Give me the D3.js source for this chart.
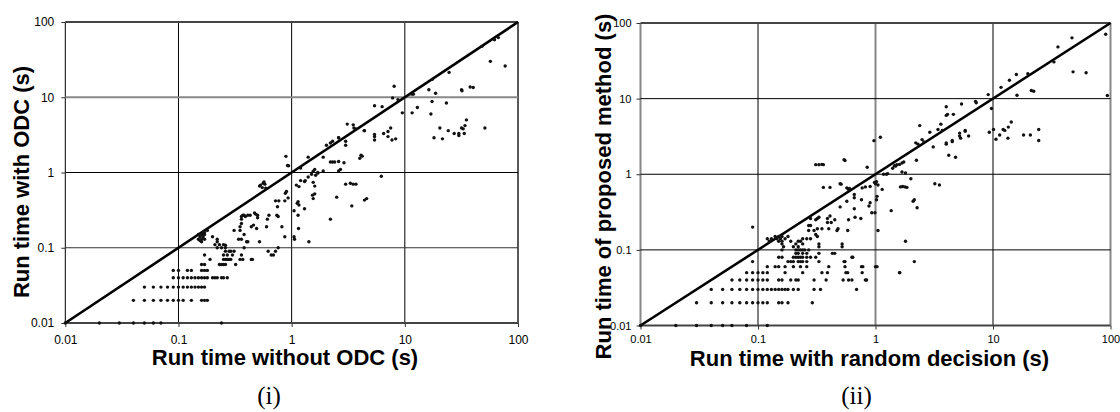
<!DOCTYPE html>
<html>
<head>
<meta charset="utf-8">
<script src="https://cdn.jsdelivr.net/npm/d3@7"></script>
<style>
  body { margin: 0; background: #fff; }
  svg { display: block; }
  .tick text { font-family: "Liberation Sans", Arial, sans-serif; fill: #000; }
  .title { font-family: "Liberation Sans", Arial, sans-serif; font-weight: bold; font-size: 22px; }
  .caption { font-family: "Liberation Serif", "DejaVu Serif", serif; font-size: 25px; }
</style>
</head>
<body>
<div id="chart"></div>
<script>
// Shared log axis ticks
const tickValues = [0.01, 0.1, 1, 10, 100];
const tickLabels = ['0.01', '0.1', '1', '10', '100'];

// (i) run time with ODC vs without ODC: timings rounded to 0.01 s form rows
const odcRows = [
  [0.01, [0.01, 0.02, 0.03, 0.04, 0.05, 0.06, 0.07, 0.24]],
  [0.02, [0.04, 0.05, 0.06, 0.07, 0.08, 0.09, 0.1, 0.11, 0.13, 0.16, 0.17, 0.18]],
  [0.03, [0.05, 0.06, 0.07, 0.08, 0.09, 0.1, 0.11, 0.12, 0.13, 0.14, 0.15, 0.16, 0.17]],
  [0.04, [0.09, 0.1, 0.11, 0.12, 0.13, 0.14, 0.15, 0.16, 0.17, 0.18, 0.2, 0.21, 0.22, 0.24, 0.25, 0.27]],
  [0.05, [0.09, 0.1, 0.12, 0.13, 0.16, 0.17, 0.18]],
  [0.06, [0.16, 0.17, 0.23, 0.24, 0.25, 0.26, 0.32]],
  [0.07, [0.19, 0.25, 0.26, 0.27, 0.28, 0.29, 0.35, 0.37, 0.44, 0.45]],
  [0.08, [0.17, 0.25, 0.27, 0.3, 0.36, 0.66, 0.69]],
  [0.09, [0.26, 0.28, 0.29, 0.31, 0.62, 0.72]]
];
const odcPoints = [
  [0.15, 0.15], [0.155, 0.14], [0.16, 0.15], [0.16, 0.13], [0.165, 0.14], [0.17, 0.13],
  [0.15, 0.13], [0.16, 0.12], [0.17, 0.15], [0.155, 0.125], [0.165, 0.16], [0.18, 0.17],
  [0.17, 0.16], [0.2, 0.14], [0.22, 0.13], [0.22, 0.12], [0.23, 0.11], [0.21, 0.11],
  [0.24, 0.1], [0.25, 0.11], [0.22, 0.1], [0.26, 0.1], [0.26, 0.108], [0.31, 0.17],
  [0.36, 0.26], [0.36, 0.24], [0.36, 0.21], [0.38, 0.27], [0.37, 0.27], [0.36, 0.13],
  [0.35, 0.19], [0.35, 0.17], [0.34, 0.13], [0.38, 0.15], [0.4, 0.12], [0.38, 0.1],
  [0.41, 0.12], [0.39, 0.26], [0.41, 0.27], [0.43, 0.27], [0.47, 0.29], [0.5, 0.27],
  [0.44, 0.19], [0.46, 0.2], [0.49, 0.18], [0.48, 0.28], [0.5, 0.25], [0.52, 0.12],
  [0.6, 0.19], [0.63, 0.27], [0.61, 0.24], [0.52, 0.66], [0.55, 0.63], [0.56, 0.72],
  [0.57, 0.75], [0.58, 0.7], [0.59, 0.62], [0.53, 0.68], [0.72, 0.42], [0.77, 0.42],
  [0.75, 0.35], [0.74, 0.27], [0.76, 0.26], [0.82, 0.19], [0.87, 0.14], [0.76, 0.1],
  [0.87, 0.42], [0.88, 0.53], [0.9, 0.56], [0.93, 0.46], [0.89, 1.64], [0.92, 1.24],
  [0.94, 1.23], [1.4, 1.6], [1.9, 1.6], [1.6, 1.1], [1.9, 1.05], [1.5, 0.95],
  [1.7, 0.98], [1.3, 0.76], [1.32, 0.78], [1.2, 0.78], [1.16, 0.65], [1.1, 0.68],
  [1.4, 0.87], [1.55, 0.74], [1.6, 0.66], [1.53, 0.5], [1.6, 0.52], [1.55, 0.45],
  [1.14, 0.41], [1.12, 0.39], [1.16, 0.37], [1.3, 0.33], [1.14, 0.27], [1.05, 0.31],
  [1.15, 0.18], [1.05, 0.14], [1.06, 0.13], [1.42, 0.12], [1.2, 1.15], [1.55, 1.04],
  [1.63, 0.92], [1.7, 1.0], [2.03, 2.3], [2.2, 2.47], [2.3, 2.6], [2.6, 2.9],
  [2.2, 1.38], [2.3, 1.38], [2.4, 1.38], [2.6, 1.4], [2.9, 1.35], [2.7, 1.1],
  [2.6, 1.05], [3.0, 2.6], [3.0, 2.3], [2.6, 2.9], [3.1, 4.4], [3.5, 4.3],
  [3.55, 3.9], [4.37, 3.6], [4.1, 1.7], [4.2, 1.65], [4.0, 1.55], [3.0, 0.7],
  [3.3, 0.72], [3.5, 0.7], [3.7, 0.7], [3.4, 0.36], [2.5, 0.47], [2.2, 0.24],
  [4.4, 0.43], [4.6, 0.45], [6.2, 0.89], [5.4, 7.7], [5.4, 3.2], [5.4, 3.0],
  [5.4, 2.7], [6.5, 3.3], [7.1, 3.0], [7.1, 3.5], [7.5, 3.9], [7.7, 2.7],
  [8.3, 2.8], [8.05, 14], [7.8, 9.8], [8.7, 9.3], [9.5, 6.2], [11.6, 6.2],
  [12.9, 7.3], [11.5, 11], [11.9, 11], [16.3, 12.6], [18.7, 11.3], [17.4, 8.8],
  [17, 6], [23.3, 8.4], [24.6, 21.4], [17.5, 17.3], [20.4, 3.9], [18.1, 2.9],
  [21.5, 2.8], [24.2, 3.6], [27.3, 3.3], [30, 3.1], [30, 3.3], [31.7, 3.9],
  [32.8, 3.8], [34, 4.2], [35, 5], [33.5, 3.3], [31.7, 12.6], [32, 12.2],
  [37.8, 13.7], [40.2, 13.5], [51, 3.9], [48, 47.5], [57, 30], [77, 26],
  [67, 62], [62, 58], [6.3, 7.5], [4.4, 3.6], [3.7, 3.8]
];

// (ii) run time of proposed method vs random decision
const randRows = [
  [0.01, [0.01, 0.02, 0.03, 0.04, 0.05, 0.06, 0.08, 0.12]],
  [0.02, [0.03, 0.04, 0.05, 0.06, 0.07, 0.08, 0.09, 0.1, 0.11, 0.12, 0.15, 0.16, 0.18, 0.29]],
  [0.03, [0.04, 0.05, 0.06, 0.07, 0.08, 0.09, 0.1, 0.11, 0.12, 0.13, 0.14, 0.15, 0.16, 0.17, 0.18, 0.2, 0.22, 0.3, 0.34]],
  [0.04, [0.06, 0.07, 0.08, 0.09, 0.1, 0.11, 0.12, 0.15, 0.16, 0.19, 0.21, 0.22, 0.3, 0.38, 0.53, 0.59, 0.84]],
  [0.05, [0.08, 0.09, 0.1, 0.11, 0.12, 0.17, 0.24, 0.35, 0.39, 0.58, 0.77, 1.61]],
  [0.06, [0.12, 0.14, 0.15, 0.17, 0.2, 0.23, 0.26, 0.4, 0.55, 0.78, 1.03]],
  [0.07, [0.09, 0.18, 0.19, 0.2, 0.22, 0.23, 0.24, 0.26, 0.33, 0.55, 2.14]],
  [0.08, [0.15, 0.16, 0.2, 0.21, 0.22, 0.23, 0.24, 0.26, 0.28, 0.31, 0.64]],
  [0.09, [0.21, 0.22, 0.24, 0.26, 0.33, 0.45]],
  [0.1, [0.21, 0.22, 0.23, 0.24, 0.25, 0.27]]
];
const randPoints = [
  [0.09, 0.2], [0.12, 0.14], [0.125, 0.13], [0.13, 0.14], [0.14, 0.15], [0.145, 0.14],
  [0.15, 0.15], [0.155, 0.14], [0.16, 0.15], [0.15, 0.13], [0.16, 0.13], [0.16, 0.12],
  [0.165, 0.11], [0.16, 0.1], [0.17, 0.14], [0.18, 0.15], [0.19, 0.13], [0.2, 0.11],
  [0.21, 0.12], [0.22, 0.11], [0.23, 0.13], [0.24, 0.12], [0.24, 0.14], [0.26, 0.14],
  [0.28, 0.14], [0.22, 0.13], [0.32, 0.15], [0.33, 0.12], [0.33, 0.11], [0.3, 0.18],
  [0.31, 0.16], [0.27, 0.21], [0.27, 0.18], [0.28, 0.26], [0.31, 0.25], [0.32, 0.26],
  [0.33, 0.27], [0.28, 0.21], [0.32, 0.19], [0.35, 0.19], [0.4, 0.19], [0.48, 0.19],
  [0.42, 0.23], [0.39, 0.26], [0.41, 0.28], [0.45, 0.25], [0.39, 0.23], [0.52, 0.12],
  [0.58, 0.18], [0.59, 0.25], [0.67, 0.27], [0.75, 0.26], [0.66, 0.35], [0.66, 0.54],
  [0.66, 0.49], [0.59, 0.63], [0.57, 0.66], [0.6, 0.65], [0.5, 0.75], [0.51, 0.74],
  [0.36, 0.67], [0.41, 0.67], [0.31, 1.34], [0.33, 1.34], [0.35, 1.35], [0.36, 1.34],
  [0.54, 1.56], [0.55, 1.52], [0.85, 1.24], [0.97, 2.78], [1.1, 3.08], [0.77, 0.66],
  [0.82, 0.68], [0.9, 0.69], [0.9, 0.42], [0.88, 0.38], [0.98, 0.78], [1.0, 0.75],
  [1.02, 0.8], [1.05, 0.72], [1.03, 0.51], [1.02, 0.46], [0.93, 0.31], [0.99, 0.31],
  [1.14, 0.63], [1.17, 1.0], [1.24, 1.0], [1.27, 1.02], [1.48, 1.28], [1.52, 1.34],
  [1.68, 1.41], [1.74, 1.45], [1.68, 1.07], [1.8, 1.04], [2.0, 0.87], [1.63, 0.68],
  [1.7, 0.69], [1.78, 0.68], [1.85, 0.67], [2.09, 0.44], [2.14, 0.46], [2.26, 0.36],
  [1.36, 0.33], [1.05, 0.18], [1.8, 0.13], [1.0, 0.06], [1.6, 0.05], [0.56, 0.05],
  [0.63, 0.04], [0.69, 0.03], [0.76, 0.06], [0.82, 0.04], [0.43, 0.09], [0.52, 0.11],
  [0.54, 0.07], [0.63, 0.08], [0.47, 0.18], [0.5, 0.37], [0.57, 0.44], [0.76, 0.46],
  [2.23, 1.53], [2.38, 4.4], [2.58, 2.68], [2.49, 2.87], [2.2, 2.6], [2.3, 2.5],
  [47, 63.6], [35.7, 48.3], [33, 30.6], [48, 22.6], [62, 22], [91, 71], [94, 11],
  [19.8, 21.3], [15.8, 20.8], [13.8, 17.5], [11.7, 14.1], [16, 11.1], [21.2, 12.8],
  [22.2, 12.5], [9.1, 11.3], [9.7, 7.4], [7.1, 9.2], [7.2, 8.8], [5.4, 8.5],
  [4.0, 7.8], [4.0, 6.0], [4.1, 6.2], [4.6, 6.2], [3.6, 4.6], [3.4, 3.9],
  [3.7, 3.8], [2.9, 3.6], [3.1, 2.3], [4.0, 2.6], [4.0, 2.5], [4.5, 2.7],
  [4.5, 2.8], [5.2, 3.5], [5.2, 3.2], [5.3, 3.0], [5.8, 3.8], [5.8, 3.7],
  [6.2, 3.2], [4.2, 1.78], [4.8, 1.68], [3.2, 0.75], [3.5, 0.72], [9.3, 3.6],
  [10.1, 3.9], [10.6, 2.9], [11.4, 3.3], [12.2, 3.9], [12.6, 3.8], [13.5, 4.2],
  [13.4, 3.0], [14.3, 4.9], [18.2, 3.3], [20.8, 3.3], [24.5, 3.9], [24.5, 2.8],
  [1.6, 1.35], [1.45, 1.3], [1.4, 1.2]
];

// Expand rounded-time rows into [x, y] pairs
function rowsToPoints(rows) {
  return rows.flatMap(([y, xs]) => xs.map(x => [x, y]));
}

/**
 * Draw one log-log scatter panel with a y = x reference line
 * @param {object} svg - d3 selection to draw into
 * @param {object} cfg - panel layout and data
 */
function scatterPanel(svg, cfg) {
  const x = d3.scaleLog().domain([0.01, 100]).range(cfg.xRange);
  const y = d3.scaleLog().domain([0.01, 100]).range(cfg.yRange);
  const g = svg.append('g');

  // grid, drawn line by line since the source shades some of them
  g.append('g').selectAll('line')
      .data(tickValues)
    .enter().append('line')
      .attr('x1', d => x(d)).attr('x2', d => x(d))
      .attr('y1', cfg.yRange[0]).attr('y2', cfg.yRange[1])
      .attr('stroke', (d, i) => cfg.vStyle[i][0])
      .attr('stroke-width', (d, i) => cfg.vStyle[i][1]);
  g.append('g').selectAll('line')
      .data(tickValues)
    .enter().append('line')
      .attr('x1', cfg.xRange[0]).attr('x2', cfg.xRange[1])
      .attr('y1', d => y(d)).attr('y2', d => y(d))
      .attr('stroke', (d, i) => cfg.hStyle[i][0])
      .attr('stroke-width', (d, i) => cfg.hStyle[i][1]);

  const fmt = d => tickLabels[tickValues.indexOf(d)];
  const xAxis = g.append('g')
      .attr('transform', `translate(0,${cfg.yRange[0]})`)
      .call(d3.axisBottom(x).tickValues(tickValues).tickFormat(fmt)
        .tickSize(4).tickPadding(cfg.xPad));
  const yAxis = g.append('g')
      .attr('transform', `translate(${cfg.xRange[0]},0)`)
      .call(d3.axisLeft(y).tickValues(tickValues).tickFormat(fmt)
        .tickSize(4).tickPadding(cfg.yPad));
  [xAxis, yAxis].forEach((a) => {
    a.select('.domain').remove();
    a.selectAll('.tick line').attr('stroke', '#333');
    a.selectAll('.tick text').style('font-size', `${cfg.tickFont}px`);
  });

  // y = x
  g.append('line')
      .attr('x1', x(0.01)).attr('y1', y(0.01))
      .attr('x2', x(100)).attr('y2', y(100))
      .attr('stroke', '#000')
      .attr('stroke-width', 2.6);

  g.append('g').selectAll('circle')
      .data(cfg.points)
    .enter().append('circle')
      .attr('cx', d => x(d[0]))
      .attr('cy', d => y(d[1]))
      .attr('r', 1.7)
      .attr('fill', '#111');

  g.append('text')
      .attr('class', 'title')
      .attr('x', cfg.xTitlePos[0]).attr('y', cfg.xTitlePos[1])
      .attr('text-anchor', 'middle')
      .text(cfg.xTitle);
  g.append('text')
      .attr('class', 'title')
      .attr('transform', `translate(${cfg.yTitlePos[0]},${cfg.yTitlePos[1]}) rotate(-90)`)
      .attr('text-anchor', 'middle')
      .text(cfg.yTitle);
  g.append('text')
      .attr('class', 'caption')
      .attr('x', cfg.captionPos[0]).attr('y', cfg.captionPos[1])
      .attr('text-anchor', 'middle')
      .text(cfg.caption);
}

const svg = d3.select('#chart').append('svg')
    .attr('width', 1120)
    .attr('height', 412);

scatterPanel(svg, {
  xRange: [65.3, 518],
  yRange: [323, 22],
  vStyle: [['#000', 1], ['#000', 1], ['#000', 1], ['#000', 1], ['#222', 1.5]],
  hStyle: [['#444', 2], ['#333', 1], ['#000', 1], ['#888', 2], ['#444', 2]],
  tickFont: 12,
  xPad: 8,
  yPad: 7,
  points: rowsToPoints(odcRows).concat(odcPoints),
  xTitle: 'Run time without ODC (s)',
  yTitle: 'Run time with ODC (s)',
  caption: '(i)',
  xTitlePos: [285, 365],
  yTitlePos: [29, 182],
  captionPos: [269, 404]
});

scatterPanel(svg, {
  xRange: [640.5, 1110.5],
  yRange: [325.5, 23],
  vStyle: [['#888', 2], ['#000', 1], ['#888', 2], ['#000', 1], ['#888', 2]],
  hStyle: [['#444', 2], ['#000', 1], ['#000', 1], ['#000', 1], ['#444', 2]],
  tickFont: 11,
  xPad: 6,
  yPad: 5,
  points: rowsToPoints(randRows).concat(randPoints),
  xTitle: 'Run time with random decision (s)',
  yTitle: 'Run time of proposed method (s)',
  caption: '(ii)',
  xTitlePos: [869.5, 366],
  yTitlePos: [611, 186.5],
  captionPos: [856.5, 404]
});
</script>
</body>
</html>
